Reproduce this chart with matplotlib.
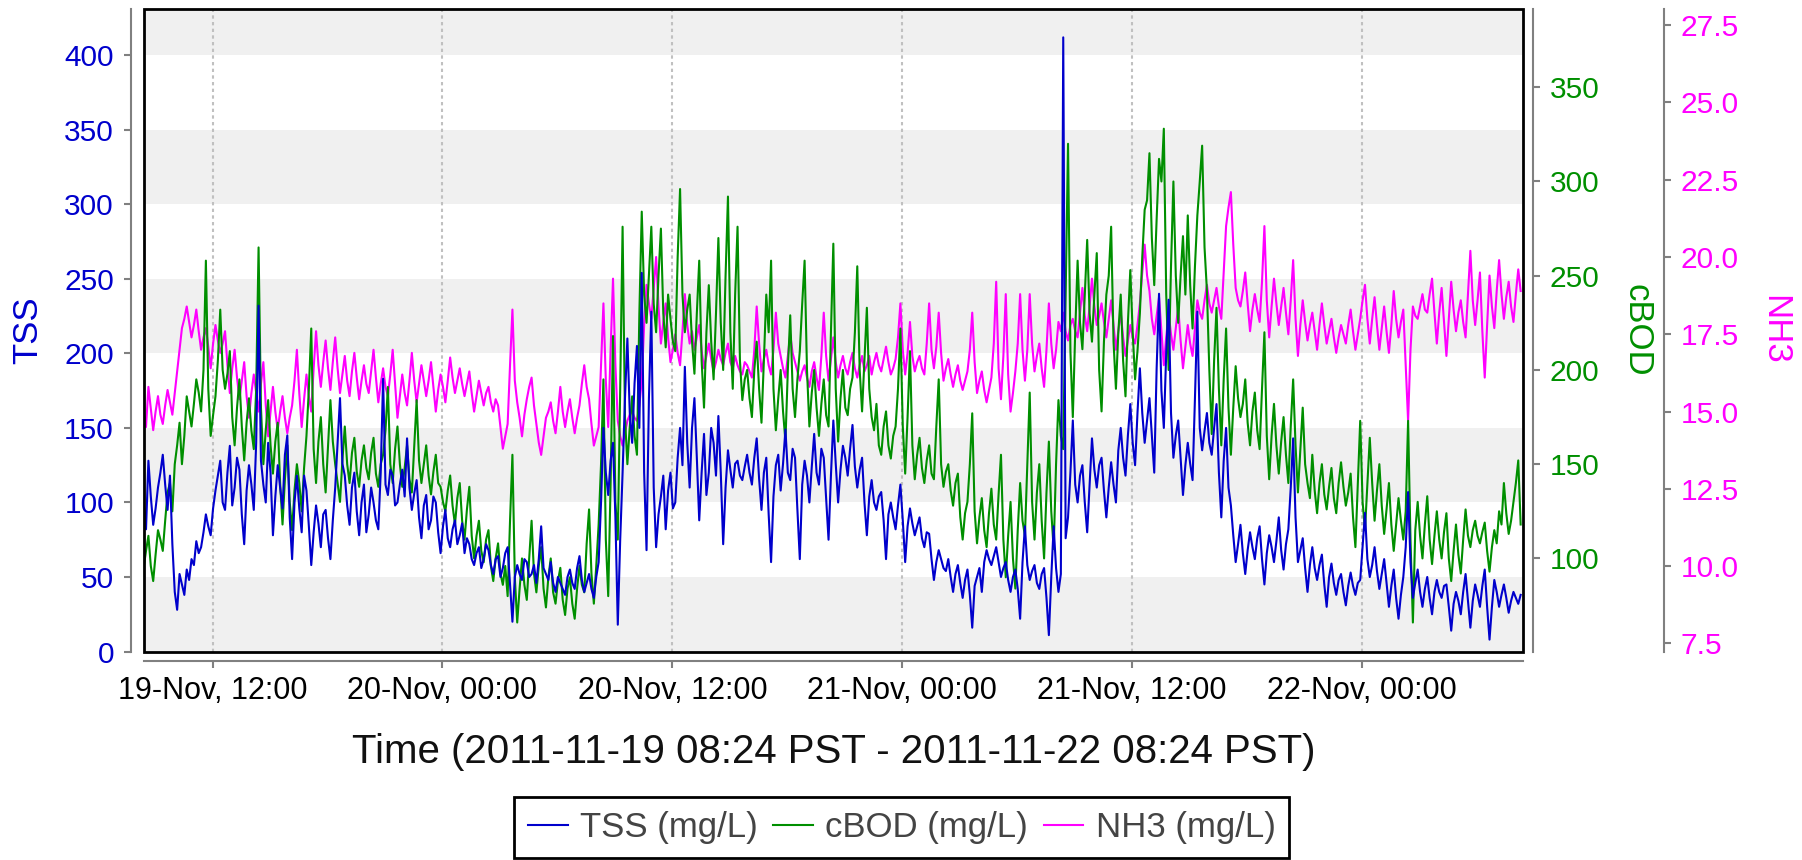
import matplotlib
matplotlib.use("Agg")
import matplotlib.pyplot as plt
import matplotlib.dates as mdates
from matplotlib.patches import Rectangle
from matplotlib.ticker import MultipleLocator, FormatStrFormatter
import pandas as pd

# readings every 7.5 minutes from 2011-11-19 08:24 PST
START = "2011-11-19 08:24"
END = "2011-11-22 08:24"
STEP = "450s"

tss = [
    100, 82, 128, 104, 85, 96, 110, 120, 132, 112, 95, 118, 72, 40, 28, 52, 45, 38, 55, 48, 62, 58, 74, 66,
    70, 80, 92, 84, 78, 96, 108, 118, 128, 100, 95, 120, 138, 98, 110, 130, 122, 92, 72, 108, 125, 112, 95, 140,
    232, 128, 112, 100, 140, 120, 78, 104, 125, 110, 96, 132, 145, 90, 62, 100, 118, 96, 80, 118, 108, 84, 58, 80,
    98, 86, 70, 92, 95, 76, 62, 88, 110, 140, 170, 126, 118, 98, 85, 110, 120, 94, 78, 100, 112, 80, 92, 110,
    100, 88, 82, 120, 183, 112, 105, 122, 118, 98, 100, 112, 122, 104, 143, 110, 95, 106, 115, 90, 76, 98, 105, 82,
    88, 104, 100, 80, 66, 84, 95, 76, 70, 82, 88, 72, 78, 86, 66, 76, 72, 62, 58, 66, 70, 56, 62, 72,
    68, 58, 52, 62, 64, 50, 56, 66, 70, 45, 20, 50, 58, 52, 48, 62, 60, 50, 52, 58, 46, 62, 84, 56,
    52, 48, 60, 46, 40, 50, 46, 42, 38, 50, 55, 46, 42, 56, 64, 48, 40, 46, 52, 42, 36, 50, 60, 100,
    150, 120, 105, 128, 140, 90, 18, 75, 120, 170, 210, 160, 140, 180, 205, 150, 254, 120, 68, 170, 228, 110, 70, 92,
    104, 118, 82, 108, 120, 96, 100, 130, 150, 125, 191, 140, 110, 150, 170, 130, 88, 120, 146, 105, 120, 150, 140, 118,
    158, 120, 72, 110, 135, 122, 110, 126, 128, 118, 115, 124, 132, 120, 112, 130, 143, 116, 95, 120, 130, 92, 60, 104,
    125, 132, 108, 126, 149, 120, 115, 136, 130, 95, 62, 112, 128, 118, 100, 124, 146, 120, 112, 136, 130, 102, 75, 118,
    155, 126, 100, 122, 138, 130, 118, 136, 152, 124, 110, 122, 130, 100, 78, 104, 115, 100, 95, 104, 107, 88, 62, 92,
    100, 90, 82, 98, 112, 88, 60, 84, 96, 86, 78, 84, 90, 76, 70, 80, 79, 62, 48, 60, 68, 62, 56, 54,
    62, 50, 40, 52, 58, 46, 36, 48, 55, 38, 16, 44, 50, 56, 40, 60, 68, 62, 58, 64, 70, 60, 50, 56,
    60, 48, 40, 50, 55, 42, 22, 60, 84, 58, 48, 54, 58, 46, 42, 52, 56, 36, 11, 50, 84, 56, 40, 52,
    412, 76, 90, 120, 155, 112, 100, 118, 125, 100, 80, 112, 143, 122, 110, 125, 130, 108, 90, 110, 127, 112, 100, 135,
    150, 130, 118, 145, 166, 140, 125, 160, 190, 160, 140, 155, 170, 145, 120, 190, 240, 175, 150, 200, 236, 160, 130, 145,
    155, 130, 105, 125, 140, 126, 115, 170, 228, 150, 135, 148, 160, 140, 132, 150, 166, 120, 90, 128, 150, 110, 98, 78,
    60, 72, 85, 66, 52, 68, 80, 70, 62, 76, 84, 62, 45, 66, 78, 70, 60, 74, 90, 68, 55, 72, 82, 110,
    143, 90, 60, 68, 76, 56, 40, 58, 70, 56, 48, 58, 65, 45, 30, 50, 59, 46, 38, 48, 52, 40, 31, 44,
    53, 44, 38, 46, 48, 70, 93, 62, 50, 58, 70, 54, 42, 52, 62, 46, 30, 44, 55, 36, 22, 38, 50, 70,
    107, 60, 36, 46, 55, 40, 30, 42, 50, 36, 25, 40, 48, 40, 36, 44, 45, 30, 14, 32, 40, 34, 25, 40,
    52, 34, 16, 34, 45, 38, 30, 44, 55, 30, 8, 30, 48, 40, 30, 38, 45, 36, 26, 34, 40, 36, 32, 38,
]

cbod = [
    95, 104, 112, 96, 88, 102, 115, 110, 104, 120, 135, 140, 125, 150, 160, 172, 150, 165, 186, 178, 170, 182, 195, 188,
    178, 200, 258, 190, 165, 176, 186, 205, 232, 200, 190, 198, 210, 175, 160, 180, 195, 170, 152, 172, 185, 168, 158, 190,
    265, 180, 150, 168, 184, 160, 145, 162, 172, 140, 118, 142, 160, 130, 115, 136, 150, 140, 125, 148, 165, 190, 222, 158,
    140, 162, 175, 150, 135, 160, 184, 162, 150, 140, 130, 152, 170, 150, 140, 156, 164, 146, 138, 152, 160, 148, 142, 156,
    164, 145, 138, 150, 155, 168, 191, 150, 140, 158, 170, 150, 138, 148, 160, 142, 135, 160, 184, 152, 140, 150, 160, 144,
    134, 146, 155, 140, 138, 130, 125, 136, 144, 128, 118, 132, 140, 120, 110, 126, 138, 112, 100, 112, 120, 104, 98, 110,
    115, 96, 88, 100, 108, 92, 86, 96, 80, 120, 155, 90, 66, 84, 100, 86, 78, 100, 120, 92, 82, 96, 106, 84,
    74, 90, 100, 82, 76, 88, 95, 78, 70, 84, 90, 76, 68, 84, 96, 86, 82, 108, 126, 92, 76, 96, 118, 150,
    195, 110, 80, 140, 218, 130, 110, 190, 276, 175, 150, 170, 186, 165, 155, 230, 284, 240, 225, 250, 276, 235, 220, 250,
    275, 230, 212, 240, 227, 215, 210, 260, 296, 240, 220, 232, 240, 215, 198, 230, 258, 205, 180, 220, 245, 215, 195, 230,
    270, 225, 200, 250, 292, 220, 190, 240, 276, 205, 184, 195, 200, 185, 175, 200, 215, 190, 172, 205, 240, 220, 258, 190,
    168, 185, 200, 178, 162, 200, 229, 190, 175, 195, 210, 235, 258, 200, 170, 188, 200, 180, 165, 182, 195, 176, 170, 220,
    267, 190, 162, 185, 200, 180, 176, 190, 196, 220, 255, 200, 178, 205, 233, 190, 175, 168, 182, 160, 155, 170, 178, 160,
    153, 165, 170, 190, 222, 170, 145, 175, 210, 160, 142, 155, 164, 148, 140, 152, 160, 145, 142, 170, 195, 150, 138, 146,
    150, 136, 128, 140, 145, 122, 110, 124, 130, 150, 177, 125, 108, 122, 132, 115, 106, 124, 137, 118, 110, 134, 155, 110,
    90, 112, 130, 100, 84, 115, 140, 120, 112, 150, 188, 130, 110, 135, 150, 120, 100, 135, 162, 125, 105, 150, 184, 165,
    158, 240, 320, 210, 175, 220, 258, 225, 211, 240, 269, 230, 215, 240, 262, 200, 178, 215, 240, 250, 276, 215, 190, 220,
    240, 205, 186, 225, 253, 220, 195, 210, 230, 260, 285, 290, 315, 270, 245, 280, 312, 300, 328, 240, 200, 255, 300, 250,
    225, 250, 271, 240, 282, 245, 222, 255, 282, 300, 319, 265, 242, 200, 166, 205, 233, 190, 160, 195, 222, 180, 155, 180,
    202, 185, 175, 182, 195, 172, 160, 178, 188, 168, 158, 190, 220, 165, 142, 165, 182, 160, 145, 162, 175, 155, 140, 170,
    195, 160, 135, 158, 180, 150, 140, 132, 155, 136, 124, 140, 150, 134, 126, 138, 148, 132, 124, 140, 151, 138, 128, 135,
    145, 122, 106, 140, 173, 130, 115, 140, 164, 140, 120, 136, 150, 128, 113, 126, 140, 118, 104, 118, 132, 120, 110, 125,
    173, 110, 66, 115, 130, 112, 100, 118, 133, 110, 97, 112, 125, 110, 100, 114, 124, 100, 88, 104, 118, 102, 92, 110,
    126, 112, 106, 115, 120, 112, 108, 114, 119, 104, 93, 106, 115, 108, 125, 118, 140, 124, 113, 120, 130, 140, 152, 118,
]

nh3 = [
    15.0, 14.5, 15.8, 15.1, 14.4, 15.0, 15.5, 14.9, 14.6, 15.2, 15.7, 15.3, 14.9, 15.6, 16.3, 17.0, 17.7, 18.0, 18.4, 17.9, 17.4, 17.8, 18.3, 17.6,
    17.0, 17.4, 17.7, 17.1, 16.4, 17.2, 17.8, 17.3, 16.9, 17.2, 17.6, 16.5, 15.6, 16.4, 17.0, 16.1, 15.4, 16.0, 16.6, 15.5, 14.8, 15.6, 16.2, 15.6,
    15.0, 15.9, 16.6, 15.2, 14.2, 15.0, 15.8, 15.0, 14.4, 15.0, 15.5, 14.8, 14.3, 14.8, 15.2, 16.0, 17.0, 15.6, 14.5, 15.4, 16.2, 15.5, 15.0, 16.4,
    17.6, 16.5, 15.8, 16.6, 17.3, 16.4, 15.7, 16.6, 17.4, 16.4, 15.6, 16.2, 16.8, 16.0, 15.5, 16.3, 16.9, 16.1, 15.4, 16.0, 16.5, 15.9, 15.6, 16.3,
    17.0, 16.1, 15.3, 15.9, 16.4, 15.8, 15.5, 16.2, 17.0, 15.9, 14.8, 15.5, 16.2, 15.6, 15.2, 16.0, 16.9, 16.0, 15.3, 15.9, 16.5, 16.0, 15.5, 16.0,
    16.6, 15.8, 15.0, 15.7, 16.2, 15.8, 15.3, 16.0, 16.75, 16.1, 15.6, 16.0, 16.4, 15.9, 15.5, 15.9, 16.3, 15.6, 15.0, 15.5, 16.0, 15.6, 15.2, 15.6,
    15.8, 15.3, 15.0, 15.4, 15.2, 14.5, 13.8, 14.2, 14.6, 16.5, 18.3, 16.0, 15.3, 14.8, 14.2, 14.9, 15.4, 15.8, 16.1, 15.2, 14.6, 14.0, 13.6, 14.2,
    14.8, 15.0, 15.3, 14.7, 14.3, 15.0, 15.8, 15.0, 14.5, 15.0, 15.4, 14.8, 14.3, 14.8, 15.2, 15.9, 16.5, 15.8, 15.4, 14.6, 13.9, 14.2, 14.5, 16.5,
    18.5, 16.0, 14.5, 17.0, 19.3, 16.5, 14.7, 14.2, 13.9, 14.3, 14.7, 14.9, 15.0, 14.8, 14.7, 15.2, 16.0, 17.8, 19.1, 18.5, 18.0, 19.0, 20.0, 18.4,
    17.2, 17.9, 18.5, 17.4, 16.6, 17.0, 17.5, 16.9, 16.5, 17.6, 18.8, 17.8, 17.2, 17.6, 17.0, 17.4, 17.8, 17.0, 16.4, 16.8, 17.2, 16.7, 16.3, 16.6,
    17.0, 16.7, 16.5, 16.9, 17.2, 16.6, 16.4, 16.8, 16.5, 16.3, 16.2, 16.6, 16.5, 16.3, 16.1, 17.0, 18.4, 17.2, 16.3, 16.7, 17.0, 16.5, 16.2, 17.0,
    18.2, 17.2, 16.8, 16.4, 16.1, 16.8, 17.5, 16.9, 16.6, 16.3, 16.0, 16.3, 16.5, 16.1, 15.8, 16.3, 16.6, 16.1, 15.7, 16.8, 18.2, 16.8, 16.0, 16.7,
    17.4, 16.6, 16.1, 16.5, 16.8, 16.4, 16.2, 16.6, 16.9, 16.4, 16.1, 16.5, 16.8, 16.3, 16.5, 16.8, 16.2, 16.6, 16.9, 16.5, 16.3, 16.7, 17.1, 16.6,
    16.2, 16.4, 16.7, 17.4, 18.5, 17.0, 16.2, 16.9, 17.9, 16.8, 16.3, 16.6, 16.8, 16.4, 16.2, 17.2, 18.5, 17.0, 16.4, 17.1, 18.2, 16.9, 16.0, 16.4,
    16.7, 16.2, 15.8, 16.2, 16.5, 16.0, 15.7, 16.0, 16.3, 17.0, 18.2, 16.6, 15.6, 16.0, 16.3, 15.7, 15.3, 15.7, 16.1, 17.2, 19.2, 16.4, 15.4, 16.8,
    18.8, 16.2, 15.0, 15.6, 16.3, 17.2, 18.8, 17.0, 16.0, 17.0, 18.8, 17.2, 16.3, 16.8, 17.2, 16.4, 15.8, 17.0, 18.5, 17.2, 16.4, 17.0, 17.9, 17.6,
    18.2, 17.6, 17.3, 17.8, 18.0, 17.6, 17.4, 18.2, 19.0, 18.1, 17.6, 18.4, 19.3, 18.4, 17.8, 18.1, 18.5, 17.9, 17.4, 18.0, 18.6, 17.8, 17.0, 17.6,
    18.2, 17.4, 16.8, 17.3, 17.8, 17.4, 17.2, 17.8, 18.5, 19.5, 20.4, 19.4, 18.9, 18.0, 17.5, 18.1, 18.7, 17.6, 16.5, 17.4, 18.2, 17.5, 17.0, 17.7,
    18.4, 17.3, 16.4, 17.1, 17.8, 17.2, 16.8, 17.7, 18.6, 18.2, 18.0, 18.6, 19.1, 18.5, 18.2, 18.6, 19.0, 18.4, 18.0, 19.5, 21.0, 21.6, 22.1, 20.4,
    19.0, 18.6, 18.4, 18.9, 19.5, 18.5, 17.6, 18.3, 18.8, 18.3, 17.9, 19.2, 21.0, 18.6, 17.4, 18.4, 19.3, 18.5, 17.8, 18.4, 19.0, 18.2, 17.5, 18.6,
    19.9, 18.0, 16.8, 17.8, 18.6, 17.9, 17.3, 17.8, 18.2, 17.6, 17.0, 17.8, 18.5, 17.8, 17.2, 17.6, 18.0, 17.4, 16.9, 17.4, 17.8, 17.5, 17.2, 17.8,
    18.3, 17.6, 17.0, 17.5, 18.0, 18.6, 19.1, 18.0, 17.2, 18.0, 18.7, 17.8, 17.0, 17.7, 18.4, 17.6, 16.9, 17.8, 18.9, 18.0, 17.4, 17.9, 18.3, 16.5,
    14.7, 17.0, 18.4, 18.1, 18.0, 18.4, 18.8, 18.3, 18.2, 18.8, 19.3, 18.2, 17.2, 18.2, 19.0, 17.9, 16.8, 18.0, 19.2, 18.3, 17.6, 18.2, 18.6, 17.9,
    17.4, 18.8, 20.2, 18.6, 17.8, 18.6, 19.5, 17.6, 16.1, 17.8, 19.4, 18.4, 17.7, 18.9, 19.9, 18.8, 18.0, 18.7, 19.2, 18.4, 17.9, 18.8, 19.6, 18.9,
]

TSS_COLOR = "#0000cc"
CBOD_COLOR = "#008f00"
NH3_COLOR = "#ff00ff"
AXIS_GRAY = "#808080"

plt.rcParams["font.family"] = ["Liberation Sans", "DejaVu Sans"]


def sample_times(values):
    return pd.date_range(START, periods=len(values), freq=STEP)


def style_axis(ax, side, color, offset):
    for name, spine in ax.spines.items():
        spine.set_visible(name == side)
    ax.spines[side].set_position(("outward", offset))
    ax.spines[side].set_color(AXIS_GRAY)
    ax.spines[side].set_linewidth(1.5)
    ax.tick_params(axis="y", colors=AXIS_GRAY, labelcolor=color, labelsize=21.5,
                   length=5, width=1.5, pad=7)


fig = plt.figure(figsize=(18.02, 8.60), dpi=100)
ax = fig.add_axes([0.0797, 0.2424, 0.7655, 0.7471])

# alternating bands on the TSS scale, plus dashed time grid
for lo in range(0, 450, 100):
    ax.axhspan(lo, lo + 50, color="#f0f0f0", lw=0, zorder=0.2)
ax.set_axisbelow(True)
ax.grid(axis="x", color="#c0c0c0", linestyle=(0, (1.6, 1.6)), linewidth=1.5)

ax_nh3 = ax.twinx()
ax_cbod = ax.twinx()
ax_tss = fig.add_axes(ax.get_position(), sharex=ax, sharey=ax)
ax_tss.set_axis_off()

ax_nh3.plot(sample_times(nh3), nh3, color=NH3_COLOR, lw=1.5)
ax_cbod.plot(sample_times(cbod), cbod, color=CBOD_COLOR, lw=1.5)
ax_tss.plot(sample_times(tss), tss, color=TSS_COLOR, lw=1.5)

ax.set_xlim(pd.Timestamp(START), pd.Timestamp(END))
ax.set_ylim(0, 431)
ax_cbod.set_ylim(50.6, 391.5)
ax_nh3.set_ylim(7.24, 28.02)

ax.yaxis.set_major_locator(MultipleLocator(50))
ax_cbod.yaxis.set_major_locator(MultipleLocator(50))
ax_nh3.yaxis.set_major_locator(MultipleLocator(2.5))
ax_nh3.yaxis.set_major_formatter(FormatStrFormatter("%.1f"))

style_axis(ax, "left", TSS_COLOR, 9.4)
ax.spines["bottom"].set_visible(True)
ax.spines["bottom"].set_position(("outward", 6.8))
ax.spines["bottom"].set_color(AXIS_GRAY)
ax.spines["bottom"].set_linewidth(1.5)
style_axis(ax_cbod, "right", CBOD_COLOR, 7.2)
style_axis(ax_nh3, "right", NH3_COLOR, 101.5)

ax.xaxis.set_major_locator(mdates.HourLocator(byhour=[0, 12]))
ax.xaxis.set_major_formatter(mdates.DateFormatter("%d-%b, %H:%M"))
ax.tick_params(axis="x", colors=AXIS_GRAY, labelcolor="black", labelsize=22,
               length=5, width=1.5, pad=6)

ax.set_xlabel("Time (2011-11-19 08:24 PST - 2011-11-22 08:24 PST)",
              fontsize=29, color="#111111", labelpad=19)
ax.set_ylabel("TSS", fontsize=25, color=TSS_COLOR, ha="center", va="center")
ax.yaxis.set_label_coords(-0.0838, 0.5)
ax_cbod.set_ylabel("cBOD", fontsize=25, color=CBOD_COLOR, rotation=-90,
                   ha="center", va="center")
ax_cbod.yaxis.set_label_coords(1.0827, 0.5)
ax_nh3.set_ylabel("NH3", fontsize=25, color=NH3_COLOR, rotation=-90,
                  ha="center", va="center")
ax_nh3.yaxis.set_label_coords(1.1827, 0.5)

# black plot frame on top of everything
ax_tss.add_patch(Rectangle((0, 0), 1, 1, transform=ax_tss.transAxes, fill=False,
                           ec="black", lw=2, clip_on=False, zorder=10))

handles = [ax_tss.lines[0], ax_cbod.lines[0], ax_nh3.lines[0]]
labels = ["TSS (mg/L)", "cBOD (mg/L)", "NH3 (mg/L)"]
leg = fig.legend(handles, labels, loc="upper center", bbox_to_anchor=(0.5003, 0.0733),
                 ncol=3, fontsize=25, labelcolor="#444444", frameon=True,
                 fancybox=False, edgecolor="black", framealpha=1,
                 handlelength=1.15, handletextpad=0.35, columnspacing=0.45,
                 borderpad=0.4, borderaxespad=0)
leg.get_frame().set_linewidth(2)

fig.savefig("out.png", dpi=100)
